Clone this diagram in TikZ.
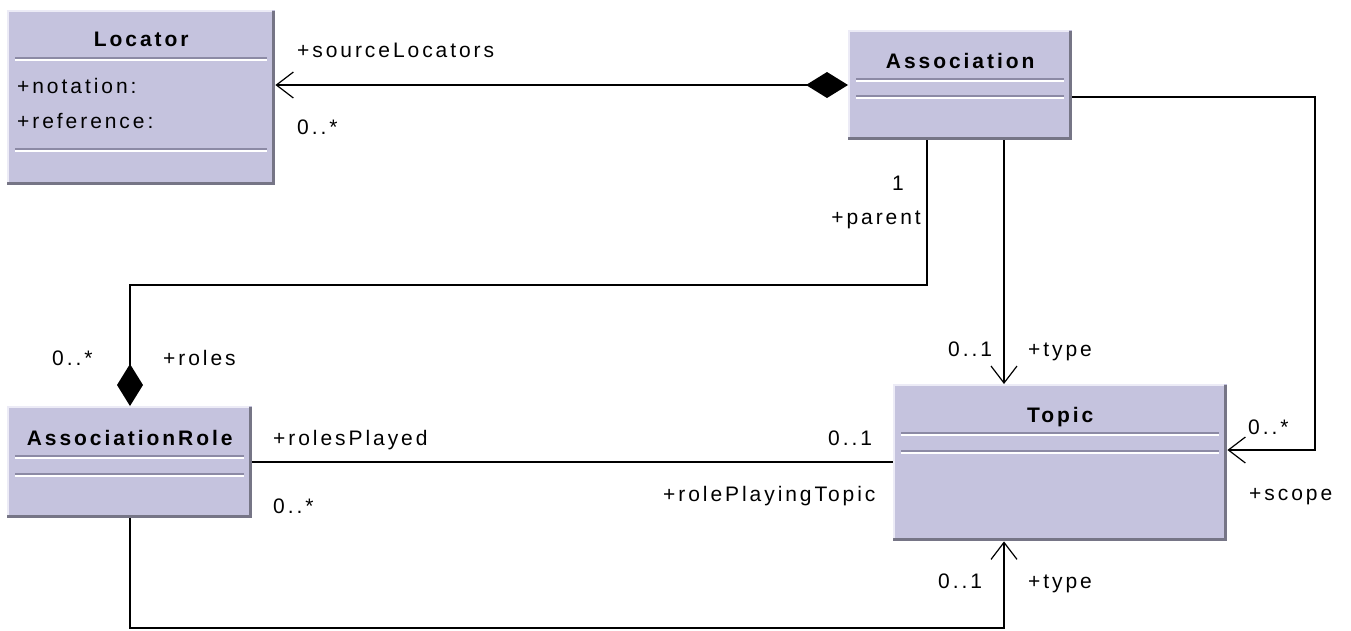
\documentclass[tikz,border=0pt]{standalone}
\usepackage{fontspec}
\setmainfont{Liberation Sans}[LetterSpace=14]
\usetikzlibrary{arrows.meta,calc}
\definecolor{classfill}{RGB}{197,195,222}
\definecolor{edgedark}{RGB}{118,117,134}
\definecolor{sepdark}{RGB}{140,138,165}
\definecolor{edgelight}{RGB}{236,235,246}

% class box: name, left, top, width, height
\newcommand\umlclass[5]{%
  \node[classbox,minimum width=#4pt,minimum height=#5pt] (#1) at (#2,#3) {};
  \draw[edgedark,line width=3pt]
    ([xshift=-1.5pt,yshift=-1pt]#1.north east) --
    ([xshift=-1.5pt,yshift=1.5pt]#1.south east) --
    ([xshift=0pt,yshift=1.5pt]#1.south west);
  \draw[edgelight,line width=1.5pt]
    ([xshift=0.75pt,yshift=3pt]#1.south west) --
    ([xshift=0.75pt,yshift=-0.75pt]#1.north west) --
    ([xshift=-3pt,yshift=-0.75pt]#1.north east);
}
% compartment separator: box name, offset below the top
\newcommand\umlsep[2]{%
  \draw[sepdark,line width=1.5pt]
    ($(#1.north west)+(8,#2)$) -- ($(#1.north east)+(-8,#2)$);
  \draw[white,line width=1.5pt]
    ($(#1.north west)+(8,#2+2)$) -- ($(#1.north east)+(-8,#2+2)$);
}

\begin{document}
\begin{tikzpicture}[x=1pt,y=-1pt,
  classbox/.style={rectangle,fill=classfill,draw=none,inner sep=0pt,anchor=north west},
  title/.style={font=\bfseries\fontsize{21}{24}\selectfont,anchor=base,inner sep=0pt},
  lbl/.style={font=\fontsize{21}{24}\selectfont,inner sep=0pt,anchor=base west},
  conn/.style={line width=1.4pt,black},
  nav/.style={-{Straight Barb[length=17pt,width=26pt,line width=1.2pt]}},
  compnav/.style={{Diamond[length=42pt,width=26pt,line width=0pt,fill=black]}-{Straight Barb[length=17pt,width=26pt,line width=1.2pt]}},
  compoend/.style={-{Diamond[length=42pt,width=26pt,line width=0pt,fill=black]}}
]
\useasboundingbox (0,0) rectangle (1351,630);
\fill[white] (0,0) rectangle (1351,630);

% classes
\umlclass{loc}{7}{10}{268}{175}
\umlsep{loc}{48}
\umlsep{loc}{139}
\node[title] (locT) at ($(loc.north)+(0,36)$) {Locator};
\node[lbl] (locA1) at ($(loc.north west)+(10,83)$) {+notation:};
\node[lbl] (locA2) at ($(loc.north west)+(10,118)$) {+reference:};

\umlclass{assoc}{848}{30}{224}{110}
\umlsep{assoc}{49}
\umlsep{assoc}{66}
\node[title] (assocT) at ($(assoc.north)+(0,38)$) {Association};

\umlclass{role}{7}{406}{245}{112}
\umlsep{role}{50}
\umlsep{role}{68}
\node[title] (roleT) at ($(role.north)+(0,39)$) {AssociationRole};

\umlclass{topic}{893}{384}{334}{157}
\umlsep{topic}{49}
\umlsep{topic}{67}
\node[title] (topicT) at ($(topic.north)+(0,38)$) {Topic};

% route corners
\coordinate (parentA) at (927,285);
\coordinate (parentB) at (130,285);
\coordinate (scopeA) at (1315,97);
\coordinate (scopeB) at (1315,450);
\coordinate (ptypeA) at (130,628);
\coordinate (ptypeB) at (1004,628);

% connectors
\draw[conn,compnav] ($(assoc.north west)+(0,55)$) -- ($(loc.north east)+(0,75)$);
\draw[conn,compoend] ($(assoc.south west)+(79,0)$) -- (parentA) -- (parentB) -- ($(role.north west)+(123,0)$);
\draw[conn,nav] ($(assoc.south west)+(156,0)$) -- ($(topic.north west)+(111,0)$);
\draw[conn,nav] ($(assoc.north east)+(0,67)$) -- (scopeA) -- (scopeB) -- ($(topic.north east)+(0,66)$);
\draw[conn] ($(role.north east)+(0,56)$) -- ($(topic.north west)+(0,78)$);
\draw[conn,nav] ($(role.south west)+(123,0)$) -- (ptypeA) -- (ptypeB) -- ($(topic.south west)+(111,0)$);

% association end labels
\node[lbl] (lSrc) at (297,57) {+sourceLocators};
\node[lbl] (lSrcM) at (297,134) {0..*};
\node[lbl,anchor=base east] (lParM) at (904,190) {1};
\node[lbl,anchor=base east] (lPar) at (921,224) {+parent};
\node[lbl] (lRolesM) at (52,365) {0..*};
\node[lbl] (lRoles) at (163,365) {+roles};
\node[lbl] (lTypeM) at (948,356) {0..1};
\node[lbl] (lType) at (1028,356) {+type};
\node[lbl] (lPlayed) at (273,445) {+rolesPlayed};
\node[lbl] (lPlayedM) at (828,445) {0..1};
\node[lbl] (lRoleM) at (273,513) {0..*};
\node[lbl] (lPlaying) at (663,501) {+rolePlayingTopic};
\node[lbl] (lScopeM) at (1248,434) {0..*};
\node[lbl] (lScope) at (1249,500) {+scope};
\node[lbl] (lRTypeM) at (938,588) {0..1};
\node[lbl] (lRType) at (1028,588) {+type};
\end{tikzpicture}
\end{document}
